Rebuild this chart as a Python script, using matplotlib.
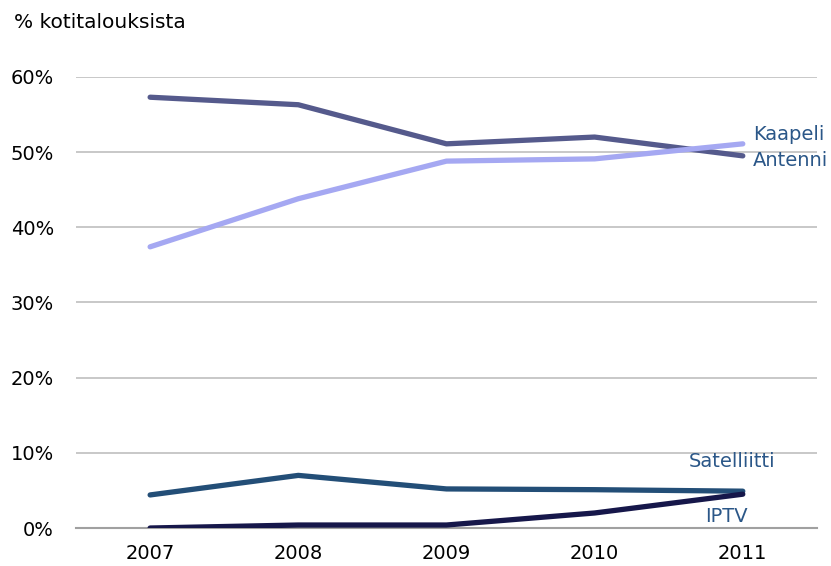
import matplotlib.pyplot as plt
import numpy as np

years = ["2007", "2008", "2009", "2010", "2011"]
antenni = [57.3, 56.3, 51.1, 52.0, 49.5]
kaapeli = [37.4, 43.8, 48.8, 49.1, 51.1]
satelliitti = [4.4, 7.0, 5.2, 5.1, 4.9]
iptv = [0.0, 0.4, 0.4, 2.0, 4.5]

fig = plt.figure(figsize=(8.31, 5.66), dpi=100)
ax = fig.add_axes([0.0915, 0.0671, 0.8915, 0.797])

x = np.arange(len(years))
lw = 3.8
ax.plot(x, antenni, color="#555a8c", lw=lw, solid_capstyle="round", zorder=3)
ax.plot(x, kaapeli, color="#a5a8f2", lw=lw, solid_capstyle="round", zorder=4)
ax.plot(x, satelliitti, color="#234e77", lw=lw, solid_capstyle="round", zorder=3)
ax.plot(x, iptv, color="#16174a", lw=lw, solid_capstyle="round", zorder=4)

ax.set_xlim(-0.5, 4.5)
ax.set_ylim(0, 60)
ax.set_yticks(np.arange(0, 61, 10))
ax.set_yticklabels([f"{v}%" for v in range(0, 61, 10)])
ax.set_xticks(x)
ax.set_xticklabels(years)
ax.grid(axis="y", color="#bfbfbf", lw=1.2)
ax.set_axisbelow(True)
for s in ["top", "right", "left"]:
    ax.spines[s].set_visible(False)
ax.spines["bottom"].set_color("#a0a0a0")
ax.spines["bottom"].set_linewidth(1.5)
fs = 14
ax.tick_params(length=0, labelsize=fs, colors="black")
ax.tick_params(axis="x", pad=11.5)
ax.tick_params(axis="y", pad=16)

lab = "#2b5788"
ax.text(4.07, 52.3, "Kaapeli", color=lab, fontsize=fs, va="center", ha="left")
ax.text(4.07, 48.9, "Antenni", color=lab, fontsize=fs, va="center", ha="left")
ax.text(3.93, 8.9, "Satelliitti", color=lab, fontsize=fs, va="center", ha="center")
ax.text(3.89, 1.5, "IPTV", color=lab, fontsize=fs, va="center", ha="center")

fig.text(14 / 831, 1 - 22 / 566, "% kotitalouksista", fontsize=14.5, va="center", ha="left")

fig.savefig("out.png", dpi=100)
